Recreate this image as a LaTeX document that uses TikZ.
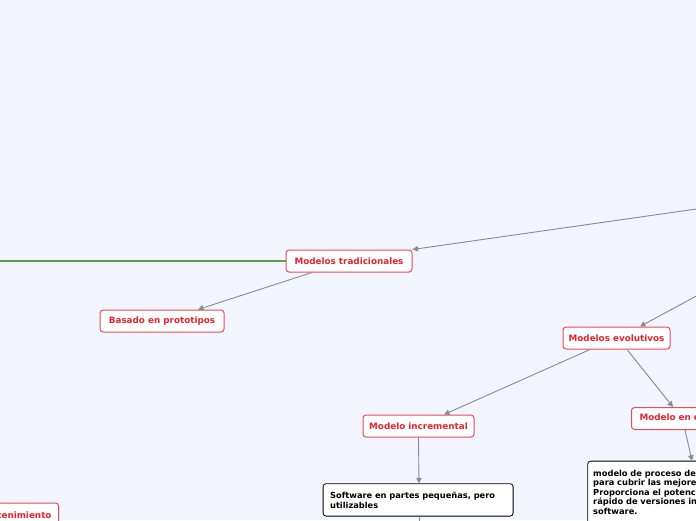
\documentclass[tikz,border=0pt]{standalone}
\usepackage{fontspec}
\setmainfont{DejaVu Sans}
\usetikzlibrary{arrows.meta}
\definecolor{bgc}{HTML}{F2F5FE}
\definecolor{redtxt}{HTML}{E8232F}
\definecolor{redbd}{HTML}{EC4A56}
\definecolor{conn}{HTML}{8A8A8E}
\definecolor{grn}{HTML}{5A9E4E}
\tikzset{
  redbox/.style={draw=redbd, line width=1pt, fill=white, rounded corners=3pt,
    text=redtxt, font=\fontsize{8.8}{10}\selectfont\bfseries, inner sep=0pt,
    minimum height=22pt, anchor=center},
  blkbox/.style={draw=black, line width=0.8pt, fill=white, rounded corners=3pt,
    text=black, font=\fontsize{8.3}{9.6}\selectfont\bfseries, inner ysep=0pt,
    inner xsep=7pt, align=left, anchor=north west},
  conn/.style={draw=conn, line width=0.9pt, -{Triangle[length=5.5pt,width=5.5pt]}},
  grnline/.style={draw=grn, line width=1.1pt},
}
\begin{document}
\begin{tikzpicture}[x=1pt,y=-1pt]
\fill[bgc] (0,0) rectangle (696,520);
\useasboundingbox (0,0) rectangle (696,520);
\clip (0,0) rectangle (696,520);

\coordinate (rootA) at (700,208.5);
\coordinate (rootB) at (700,294);
\coordinate (leftend) at (-5,261);
\coordinate (downend) at (419,525);

\node[redbox, minimum width=126pt] (trad) at (349,261) {Modelos tradicionales};
\node[redbox, minimum width=124pt] (proto) at (162,321) {Basado en prototipos};
\node[redbox, minimum width=107pt] (evol) at (616.5,338) {Modelos evolutivos};
\node[redbox, minimum width=111pt] (incr) at (418.5,426) {Modelo incremental};
\node[redbox, inner xsep=8pt, anchor=west] (espi) at (631,418.5) {Modelo en espiral};
\node[redbox, inner xsep=7pt, anchor=east, minimum height=24pt] (mant) at (59,515) {Mantenimiento};

\node[blkbox, text width=176pt] (soft) at (322.7,483.3)
  {\rule{0pt}{15pt}Software en partes pequeñas, pero\\utilizables\rule[-7.8pt]{0pt}{7.8pt}};
\node[blkbox, inner xsep=5.5pt, text width=210pt] (espt) at (587.3,460.7)
  {\rule{0pt}{15pt}modelo de proceso de software evolutivo\\para cubrir las mejores características\\Proporciona el potencial para el desarrollo\\rápido de versiones incrementales del\\software.\rule[-10pt]{0pt}{10pt}};

\draw[grnline] (trad.west) -- (leftend);
\draw[conn] (rootA) -- (trad.north east);
\draw[conn] (rootB) -- (evol.north -| 640,0);
\draw[conn] (trad.south -| 312,0) -- (proto.north -| 198,0);
\draw[conn] (evol.south -| 590,0) -- (incr.north -| 444,0);
\draw[conn] (evol.south -| 627,0) -- (espi.north -| 673,0);
\draw[conn] (espi.south -| 685,0) -- (espt.north -| 692,0);
\draw[conn] (incr.south) -- (soft.north -| 419,0);
\draw[draw=conn, line width=0.9pt] (soft.south -| 419,0) -- (downend);
\end{tikzpicture}
\end{document}
